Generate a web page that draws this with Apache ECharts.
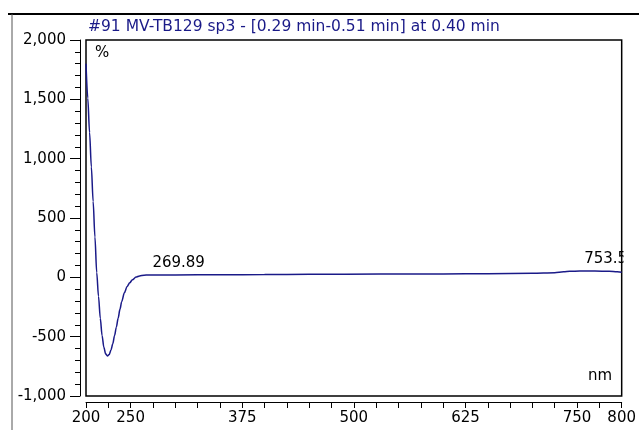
<!DOCTYPE html>
<html lang="en">
<head>
    <meta charset="utf-8" />
    <title>Spectrum</title>
    <script type="text/javascript" src="https://cdn.jsdelivr.net/npm/echarts@6/dist/echarts.min.js"></script>
</head>
<body style="margin:0;background-color:#fff">
    <div id="container" style="width:639px;height:430px;"></div>
</body>
</html>
<script type="text/javascript">
    var titleText = '#91 MV-TB129 sp3 - [0.29 min-0.51 min] at 0.40 min';
    // wavelength (nm) and intensity (%)
    var wavelengths = [200, 202, 204, 206, 208, 210, 212, 214, 216, 218, 220, 222, 224, 226, 228, 230,
        232, 234, 236, 238, 240, 243, 246, 249, 252, 256, 260, 265, 270, 300, 350, 400, 450, 530,
        600, 650, 700, 725, 735, 742, 753, 770, 786, 795, 800];
    var intensity = [1800, 1510, 1220, 930, 640, 340, 40, -160, -345, -490, -590, -645, -663, -650, -612, -560,
        -490, -420, -345, -270, -205, -130, -78, -46, -20, 2, 12, 18, 20, 20, 22, 23, 25, 28,
        29, 31, 34, 38, 46, 51, 53, 53, 51, 46, 43];
    var xLabels = [200, 250, 375, 500, 625, 750, 800];
    var peakX = [269.89, 753.5];
    var peakY = [20, 53];

    var font = 'DejaVu Sans';
    var navy = '#1a1a88';

    var dom = document.getElementById("container");
    var myChart = echarts.init(dom);

    var seriesData = [];
    for (var i = 0; i < wavelengths.length; i++) {
        seriesData.push([wavelengths[i], intensity[i]]);
    }
    var peaks = [];
    for (var j = 0; j < peakX.length; j++) {
        peaks.push({ coord: [peakX[j], peakY[j]], value: peakX[j].toFixed(2) });
    }

    var option = {
        animation: false,
        backgroundColor: '#fff',
        title: {
            text: titleText,
            left: 88,
            top: 19,
            padding: 0,
            textStyle: { color: navy, fontFamily: font, fontSize: 15.5, fontWeight: 'normal' }
        },
        grid: {
            left: 86, right: 17, top: 40, bottom: 34,
            show: true, borderColor: '#000', borderWidth: 1.5, backgroundColor: 'transparent'
        },
        xAxis: {
            type: 'value',
            min: 200, max: 800, interval: 25,
            offset: 6,
            axisLine: { onZero: false, lineStyle: { color: '#000', width: 1 } },
            axisTick: { length: 6, lineStyle: { color: '#000' } },
            splitLine: { show: false },
            axisLabel: {
                color: '#000', fontFamily: font, fontSize: 15, margin: 9,
                showMaxLabel: true, showMinLabel: true,
                formatter: function (v) { return xLabels.indexOf(v) >= 0 ? String(v) : ''; }
            }
        },
        yAxis: {
            type: 'value',
            min: -1000, max: 2000, interval: 500,
            offset: 6,
            axisLine: { show: true, onZero: false, lineStyle: { color: '#000', width: 1 } },
            axisTick: { show: true, length: 10, lineStyle: { color: '#000' } },
            minorTick: { show: true, splitNumber: 5, length: 5, lineStyle: { color: '#000' } },
            splitLine: { show: false },
            axisLabel: {
                color: '#000', fontFamily: font, fontSize: 15, margin: 14,
                formatter: function (v) { return v.toLocaleString('en-US'); }
            }
        },
        series: [{
            type: 'line',
            data: seriesData,
            showSymbol: false,
            smooth: 0.3,
            smoothMonotone: 'x',
            lineStyle: { color: navy, width: 1.5 },
            markPoint: {
                symbol: 'circle',
                symbolSize: 0,
                data: peaks,
                label: {
                    show: true,
                    position: [4, -19],
                    color: '#000', fontFamily: font, fontSize: 15,
                    formatter: function (p) { return p.value; }
                }
            }
        }],
        graphic: [
            { type: 'line', shape: { x1: 8, y1: 14, x2: 639, y2: 14 }, style: { stroke: '#000', lineWidth: 2 } },
            { type: 'line', shape: { x1: 12, y1: 14, x2: 12, y2: 430 }, style: { stroke: '#555', lineWidth: 1 } },
            { type: 'rect', shape: { x: 623.5, y: 240, width: 16, height: 40 }, style: { fill: '#fff' }, z: 100 },
            { type: 'text', left: 95, top: 46, style: { text: '%', fill: '#000', font: '15px ' + font } },
            { type: 'text', left: 588, top: 369, style: { text: 'nm', fill: '#000', font: '15px ' + font } }
        ]
    };
    myChart.setOption(option, true);
</script>
